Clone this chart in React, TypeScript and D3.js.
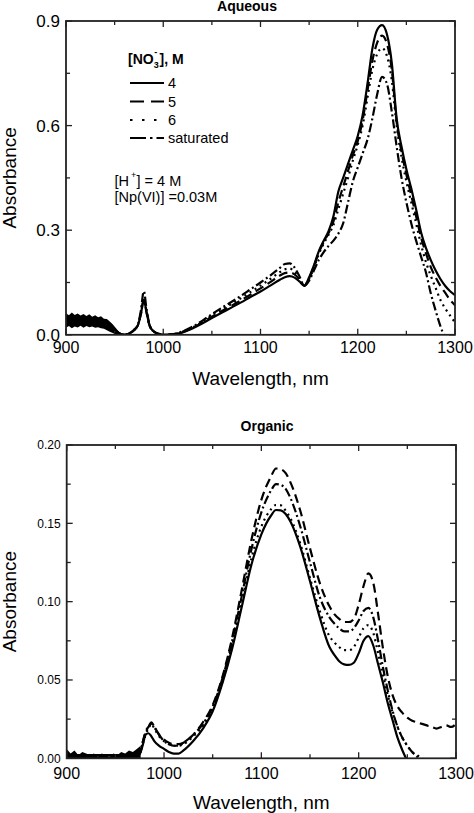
import React from "react";
import * as d3 from "d3";

// ---------- DATA ----------
const AQ_W = [900, 910, 920, 930, 940, 950, 955, 960, 965, 970, 974, 977, 980, 983, 986, 990, 995, 1000,
  1010, 1020, 1030, 1040, 1050, 1060, 1070, 1080, 1090, 1100, 1110, 1120,
  1125, 1130, 1135, 1140, 1145, 1150, 1155, 1160, 1165, 1170, 1175, 1180, 1185, 1190, 1195, 1200, 1205, 1210,
  1215, 1220, 1225, 1230, 1235, 1240, 1245, 1250, 1255, 1260, 1265, 1270, 1275, 1280, 1285, 1290, 1295, 1300];

const AQ_4 = [0.04, 0.04, 0.039, 0.036, 0.03, 0.014, 0.004, 0.0, 0.004, 0.014, 0.028, 0.06, 0.1, 0.062, 0.026, 0.01, 0.003, 0.0,
  0.001, 0.007, 0.018, 0.032, 0.048, 0.063, 0.078, 0.093, 0.109, 0.124, 0.141, 0.158,
  0.165, 0.168, 0.164, 0.153, 0.141, 0.165, 0.2, 0.24, 0.27, 0.297, 0.34, 0.41, 0.45, 0.49, 0.53, 0.57, 0.63, 0.72,
  0.82, 0.875, 0.888, 0.862, 0.78, 0.62, 0.54, 0.475, 0.42, 0.36, 0.295, 0.25, 0.215, 0.185, 0.16, 0.14, 0.125, 0.114];

const AQ_5 = [0.04, 0.04, 0.039, 0.036, 0.03, 0.014, 0.004, 0.0, 0.004, 0.014, 0.028, 0.06, 0.1, 0.062, 0.026, 0.01, 0.003, 0.0,
  0.001, 0.008, 0.02, 0.035, 0.052, 0.068, 0.083, 0.099, 0.116, 0.133, 0.151, 0.17,
  0.177, 0.179, 0.173, 0.159, 0.141, 0.162, 0.197, 0.236, 0.266, 0.292, 0.325, 0.38, 0.425, 0.47, 0.515, 0.555, 0.615, 0.7,
  0.785, 0.838, 0.858, 0.835, 0.76, 0.61, 0.525, 0.46, 0.4, 0.34, 0.28, 0.235, 0.195, 0.165, 0.14, 0.12, 0.1, 0.085];

const AQ_6 = [0.04, 0.04, 0.039, 0.036, 0.03, 0.014, 0.004, 0.0, 0.004, 0.014, 0.028, 0.06, 0.1, 0.062, 0.026, 0.01, 0.003, 0.0,
  0.001, 0.009, 0.021, 0.037, 0.055, 0.072, 0.088, 0.105, 0.123, 0.141, 0.16, 0.18,
  0.188, 0.19, 0.181, 0.163, 0.141, 0.16, 0.193, 0.232, 0.262, 0.287, 0.315, 0.36, 0.405, 0.45, 0.5, 0.545, 0.6, 0.68,
  0.76, 0.805, 0.822, 0.8, 0.73, 0.6, 0.51, 0.44, 0.38, 0.32, 0.26, 0.21, 0.17, 0.135, 0.1, 0.075, 0.055, 0.035];

const AQ_SAT = [0.04, 0.04, 0.039, 0.036, 0.03, 0.014, 0.004, 0.0, 0.004, 0.014, 0.03, 0.07, 0.125, 0.07, 0.028, 0.01, 0.003, 0.0,
  0.002, 0.01, 0.023, 0.04, 0.059, 0.077, 0.094, 0.112, 0.131, 0.15, 0.17, 0.192,
  0.203, 0.205, 0.193, 0.168, 0.14, 0.155, 0.185, 0.215, 0.237, 0.255, 0.27, 0.29, 0.32, 0.38, 0.44, 0.48, 0.52, 0.56,
  0.62, 0.69, 0.74, 0.72, 0.64, 0.54, 0.45, 0.38, 0.32, 0.27, 0.225, 0.18, 0.12, 0.07, 0.025, -0.01, -0.03, -0.05];

const AQ_NOISE_W = [900, 903, 906, 909, 912, 915, 918, 921, 924, 927, 930, 933, 936, 939, 942, 945, 948, 951, 954, 957];
const AQ_NOISE_HI = [0.062, 0.056, 0.064, 0.057, 0.061, 0.055, 0.06, 0.054, 0.059, 0.052, 0.056, 0.05, 0.053, 0.046, 0.045, 0.038, 0.03, 0.02, 0.01, 0.003];
const AQ_NOISE_LO = [0.02, 0.025, 0.019, 0.024, 0.021, 0.026, 0.02, 0.025, 0.022, 0.024, 0.02, 0.022, 0.019, 0.017, 0.013, 0.009, 0.005, 0.001, 0, 0];

const OR_W = [900, 910, 920, 930, 940, 950, 960, 970, 975, 978, 981, 984, 987, 990, 995, 1000, 1005, 1010, 1015, 1020,
  1030, 1040, 1050, 1060, 1070, 1080, 1090, 1100, 1110,
  1115, 1120, 1125, 1130,
  1140, 1150, 1160, 1170,
  1175, 1180, 1185, 1190, 1195, 1200, 1205, 1210, 1215, 1220, 1225, 1230, 1235, 1240, 1245, 1250, 1255, 1260,
  1265, 1270, 1275, 1280, 1285, 1290, 1295, 1300];

const OR_4 = [0.002, 0.002, 0.002, 0.002, 0.002, 0.002, 0.002, 0.002, 0.003, 0.008, 0.015, 0.016, 0.014, 0.011, 0.008, 0.006, 0.004, 0.003, 0.003, 0.005,
  0.011, 0.019, 0.03, 0.048, 0.07, 0.097, 0.124, 0.143, 0.155,
  0.1585, 0.1583, 0.156, 0.151,
  0.135, 0.113, 0.09, 0.071,
  0.066, 0.062, 0.06, 0.0596, 0.061, 0.067, 0.075, 0.078, 0.072, 0.06, 0.048, 0.035, 0.024, 0.013, 0.005, -0.002, -0.01, -0.018,
  -0.025, -0.03, -0.035, -0.04, -0.045, -0.05, -0.055, -0.06];

const OR_5 = [0.002, 0.002, 0.002, 0.002, 0.002, 0.002, 0.002, 0.002, 0.003, 0.01, 0.017, 0.02, 0.022, 0.02, 0.015, 0.012, 0.01, 0.009, 0.009, 0.01,
  0.015, 0.023, 0.034, 0.052, 0.077, 0.108, 0.14, 0.165, 0.18,
  0.185, 0.1845, 0.182, 0.176,
  0.158, 0.134, 0.112, 0.097,
  0.092, 0.089, 0.087, 0.087, 0.089, 0.098, 0.11, 0.118, 0.112, 0.092, 0.07, 0.052, 0.04, 0.033, 0.029, 0.026, 0.024, 0.023,
  0.022, 0.021, 0.02, 0.019, 0.02, 0.021, 0.02, 0.022];

const OR_6 = [0.002, 0.002, 0.002, 0.002, 0.002, 0.002, 0.002, 0.002, 0.003, 0.009, 0.015, 0.019, 0.022, 0.019, 0.014, 0.011, 0.009, 0.008, 0.008, 0.009,
  0.014, 0.021, 0.032, 0.049, 0.072, 0.1, 0.128, 0.148, 0.159,
  0.1617, 0.1615, 0.158, 0.153,
  0.137, 0.115, 0.094, 0.078,
  0.074, 0.071, 0.069, 0.069, 0.071, 0.077, 0.083, 0.085, 0.08, 0.067, 0.053, 0.04, 0.029, 0.02, 0.013, 0.008, 0.004, 0.002,
  0.0, -0.003, -0.006, -0.01, -0.014, -0.018, -0.022, -0.026];

const OR_SAT = [0.002, 0.002, 0.002, 0.002, 0.002, 0.002, 0.002, 0.002, 0.003, 0.01, 0.016, 0.02, 0.023, 0.02, 0.015, 0.011, 0.009, 0.008, 0.008, 0.01,
  0.015, 0.022, 0.033, 0.051, 0.075, 0.104, 0.134, 0.157, 0.171,
  0.175, 0.1745, 0.172, 0.166,
  0.148, 0.125, 0.103, 0.09,
  0.086, 0.083, 0.081, 0.081, 0.083, 0.088, 0.094, 0.096, 0.09, 0.075, 0.058, 0.043, 0.03, 0.02, 0.013, 0.008, 0.004, 0.001,
  -0.002, -0.006, -0.01, -0.014, -0.018, -0.022, -0.026, -0.03];

const OR_NOISE_W = [900, 904, 908, 912, 916, 920, 924, 928, 932, 936, 940, 944, 948, 952, 956, 960, 964, 968, 972, 976];
const OR_NOISE_HI = [0.006, 0.003, 0.005, 0.002, 0.004, 0.003, 0.002, 0.003, 0.001, 0.003, 0.002, 0.001, 0.003, 0.002, 0.004, 0.003, 0.005, 0.004, 0.006, 0.008];
const OR_NOISE_LO = [0, 0, 0, 0, 0, 0, 0, 0, 0, 0, 0, 0, 0, 0, 0, 0, 0, 0, 0, 0];

const X_TICKS = [900, 1000, 1100, 1200, 1300];
const X_MINOR = [950, 1050, 1150, 1250];
const AQ_Y_TICKS = [0, 0.3, 0.6, 0.9];
const AQ_Y_MINOR = [0.15, 0.45, 0.75];
const OR_Y_TICKS = [0, 0.05, 0.1, 0.15, 0.2];
const OR_Y_MINOR = [0.025, 0.075, 0.125, 0.175];

const LEGEND_LABELS = ["4", "5", "6", "saturated"];

// ---------- STYLES ----------
const FONT = "'Liberation Sans', Arial, Helvetica, sans-serif";
const CURVE_DASH = [null, "9,5", "2,4", "9,3,2,3"];
const LEGEND_DASH = [null, "14,7", "2.5,9.5", "16,4,2.5,4"];

type PanelProps = {
  id: string;
  x0: number; x1: number; y0: number; y1: number;
  yMax: number;
  yTicks: number[]; yMinor: number[];
  yFmt: (v: number) => string;
  yFont: number;
  xLabelBaseline: number;
  xTitleBaseline: number;
  title: string; titleX: number; titleY: number;
  wl: number[];
  series: number[][];
  noiseW: number[]; noiseHi: number[]; noiseLo: number[];
};

function Panel(p: PanelProps) {
  const x = d3.scaleLinear().domain([900, 1300]).range([p.x0, p.x1]);
  const y = d3.scaleLinear().domain([0, p.yMax]).range([p.y1, p.y0]);
  const line = d3.line<number>()
    .x((_, i) => x(p.wl[i]))
    .y((d) => y(d))
    .curve(d3.curveMonotoneX);
  const area = d3.area<number>()
    .x((_, i) => x(p.noiseW[i]))
    .y0((_, i) => y(p.noiseLo[i]))
    .y1((d) => y(d))
    .curve(d3.curveLinear);
  const major = 6, minor = 4;
  const stroke = "#222";
  return (
    <g>
      <defs>
        <clipPath id={p.id}>
          <rect x={p.x0} y={p.y0} width={p.x1 - p.x0} height={p.y1 - p.y0} />
        </clipPath>
      </defs>
      <text x={p.titleX} y={p.titleY} textAnchor="middle" fontFamily={FONT} fontWeight="bold" fontSize={14}>{p.title}</text>
      <g clipPath={`url(#${p.id})`}>
        <path d={area(p.noiseHi) || ""} fill="#000" />
        {p.series.map((s, k) => (
          <path key={k} d={line(s) || ""} fill="none" stroke="#000" strokeWidth={2.2}
            strokeDasharray={CURVE_DASH[k] || undefined} strokeLinejoin="round" />
        ))}
      </g>
      {X_TICKS.map((t) => (
        <g key={"xt" + t}>
          <line x1={x(t)} x2={x(t)} y1={p.y1} y2={p.y1 - major} stroke={stroke} strokeWidth={1.3} />
          <line x1={x(t)} x2={x(t)} y1={p.y0} y2={p.y0 + major} stroke={stroke} strokeWidth={1.3} />
          <text x={x(t)} y={p.xLabelBaseline} textAnchor="middle" fontFamily={FONT} fontSize={16}>{t}</text>
        </g>
      ))}
      {X_MINOR.map((t) => (
        <g key={"xm" + t}>
          <line x1={x(t)} x2={x(t)} y1={p.y1} y2={p.y1 - minor} stroke={stroke} strokeWidth={1.3} />
          <line x1={x(t)} x2={x(t)} y1={p.y0} y2={p.y0 + minor} stroke={stroke} strokeWidth={1.3} />
        </g>
      ))}
      {p.yTicks.map((t) => (
        <g key={"yt" + t}>
          <line x1={p.x0} x2={p.x0 + major} y1={y(t)} y2={y(t)} stroke={stroke} strokeWidth={1.3} />
          <line x1={p.x1} x2={p.x1 - major} y1={y(t)} y2={y(t)} stroke={stroke} strokeWidth={1.3} />
          <text x={p.x0 - 6} y={y(t)} dy="0.36em" textAnchor="end" fontFamily={FONT} fontSize={p.yFont}>{p.yFmt(t)}</text>
        </g>
      ))}
      {p.yMinor.map((t) => (
        <g key={"ym" + t}>
          <line x1={p.x0} x2={p.x0 + minor} y1={y(t)} y2={y(t)} stroke={stroke} strokeWidth={1.3} />
          <line x1={p.x1} x2={p.x1 - minor} y1={y(t)} y2={y(t)} stroke={stroke} strokeWidth={1.3} />
        </g>
      ))}
      <rect x={p.x0} y={p.y0} width={p.x1 - p.x0} height={p.y1 - p.y0} fill="none" stroke={stroke} strokeWidth={1.8} />
      <text x={(p.x0 + p.x1) / 2} y={p.xTitleBaseline} textAnchor="middle" fontFamily={FONT} fontSize={19}>Wavelength, nm</text>
      <text transform={`translate(16,${(p.y0 + p.y1) / 2}) rotate(-90)`} textAnchor="middle" fontFamily={FONT} fontSize={19}>Absorbance</text>
    </g>
  );
}

export default function App() {
  const legendX0 = 130, legendX1 = 164;
  const legendRows = [83, 101.5, 120, 138];
  return (
    <svg width={474} height={813} style={{ position: "absolute", left: 0, top: 0, background: "#fff" }}>
      <rect x={0} y={0} width={474} height={813} fill="#fff" />
      <Panel id="clipAq" x0={66} x1={455} y0={21} y1={334.8} yMax={0.9}
        yTicks={AQ_Y_TICKS} yMinor={AQ_Y_MINOR} yFmt={d3.format(".1f")} yFont={17}
        xLabelBaseline={353} xTitleBaseline={385}
        title="Aqueous" titleX={247} titleY={11}
        wl={AQ_W} series={[AQ_4, AQ_5, AQ_6, AQ_SAT]}
        noiseW={AQ_NOISE_W} noiseHi={AQ_NOISE_HI} noiseLo={AQ_NOISE_LO} />
      <Panel id="clipOr" x0={66.7} x1={456} y0={445} y1={758.3} yMax={0.2}
        yTicks={OR_Y_TICKS} yMinor={OR_Y_MINOR} yFmt={d3.format(".2f")} yFont={12}
        xLabelBaseline={778.5} xTitleBaseline={809}
        title="Organic" titleX={267} titleY={431}
        wl={OR_W} series={[OR_4, OR_5, OR_6, OR_SAT]}
        noiseW={OR_NOISE_W} noiseHi={OR_NOISE_HI} noiseLo={OR_NOISE_LO} />
      <g fontFamily={FONT}>
        <text x={128} y={64} fontWeight="bold" fontSize={14}>[NO</text>
        <text x={153.7} y={68} fontWeight="bold" fontSize={9}>3</text>
        <text x={154.2} y={55} fontWeight="bold" fontSize={9}>-</text>
        <text x={159.5} y={64} fontWeight="bold" fontSize={14}>], M</text>
        {LEGEND_LABELS.map((lab, k) => (
          <g key={lab}>
            <line x1={legendX0} x2={legendX1} y1={legendRows[k]} y2={legendRows[k]} stroke="#000" strokeWidth={2}
              strokeDasharray={LEGEND_DASH[k] || undefined} />
            <text x={168} y={legendRows[k] + 5} fontSize={14.5}>{lab}</text>
          </g>
        ))}
        <text x={114.5} y={185.5} fontSize={14.5}>[H</text>
        <text x={131} y={178} fontSize={9}>+</text>
        <text x={136.5} y={185.5} fontSize={14.5}>] = 4 M</text>
        <text x={114.5} y={202} fontSize={14.5}>[Np(VI)] =0.03M</text>
      </g>
    </svg>
  );
}
